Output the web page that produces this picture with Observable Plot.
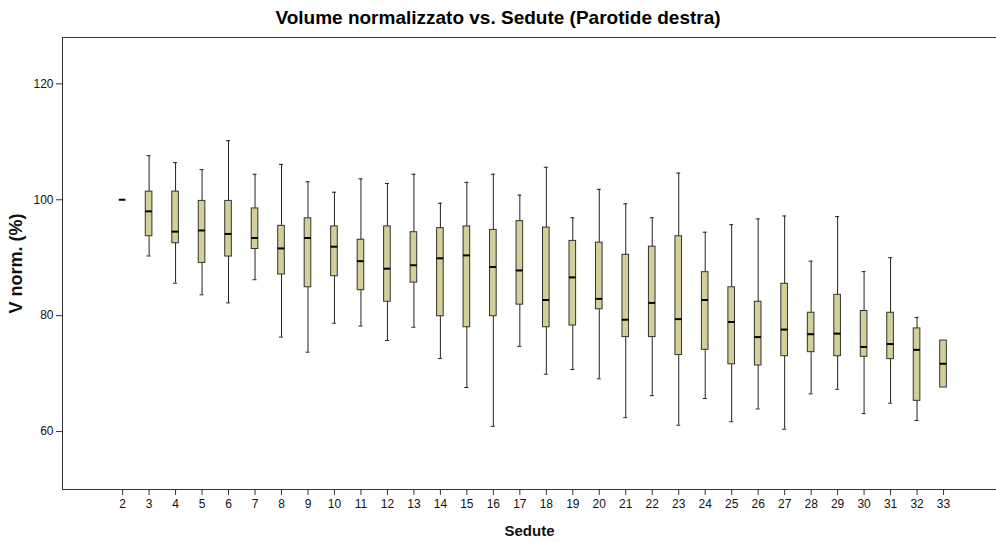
<!DOCTYPE html>
<html>
<head>
<meta charset="utf-8">
<script src="https://cdn.jsdelivr.net/npm/d3@7"></script>
<script src="https://cdn.jsdelivr.net/npm/@observablehq/plot@0.6"></script>
<style>
  html, body { margin: 0; padding: 0; background: #fff; }
  #wrap { position: relative; width: 996px; height: 542px; }
  #title { position: absolute; top: 7px; left: 0; width: 996px; text-align: center; line-height: 22px;
    font-family: 'Liberation Sans', Arial, sans-serif; font-weight: bold; font-size: 19px; color: #000; z-index: 2; }
  g[aria-label="x-axis label"] text { font-weight: bold; font-size: 15px; }
  g[aria-label="y-axis label"] text { font-weight: bold; font-size: 18px; }
</style>
</head>
<body>
<div id="wrap">
  <div id="title">Volume normalizzato vs. Sedute (Parotide destra)</div>
</div>
<script>
const sedute = [2,3,4,5,6,7,8,9,10,11,12,13,14,15,16,17,18,19,20,21,22,23,24,25,26,27,28,29,30,31,32,33];
const whiskerHigh = [100,107.6,106.4,105.2,110.2,104.4,106.1,103.1,101.3,103.6,102.8,104.4,99.4,103.0,104.4,100.8,105.6,96.9,101.8,99.3,96.9,104.6,94.4,95.7,96.7,97.2,89.4,97.1,87.6,90.0,79.7,75.7];
const q3 = [100,101.4,101.4,99.8,99.8,98.5,95.5,96.8,95.4,93.1,95.4,94.4,95.1,95.4,94.8,96.3,95.2,92.9,92.6,90.5,91.9,93.7,87.5,84.9,82.4,85.5,80.5,83.6,80.8,80.5,77.8,75.7];
const medians = [100,98.0,94.5,94.7,94.1,93.4,91.6,93.4,91.9,89.4,88.1,88.7,89.9,90.4,88.4,87.8,82.7,86.6,82.9,79.3,82.2,79.4,82.7,78.9,76.3,77.6,76.8,76.9,74.6,75.1,74.1,71.7];
const q1 = [100,93.7,92.5,89.1,90.2,91.5,87.1,84.9,86.8,84.4,82.4,85.7,79.9,78.0,79.9,81.9,78.0,78.3,81.1,76.3,76.3,73.2,74.1,71.6,71.4,73.0,73.7,73.0,72.9,72.5,65.3,67.6];
const whiskerLow = [100,90.3,85.6,83.6,82.2,86.2,76.3,73.7,78.7,78.2,75.7,78.0,72.6,67.6,60.9,74.7,69.9,70.7,69.1,62.4,66.2,61.1,65.7,61.7,63.9,60.4,66.5,67.3,63.1,64.9,61.9,67.6];
const yTicks = [60, 80, 100, 120];

const data = sedute.map((s, i) => ({
  s, lo: whiskerLow[i], q1: q1[i], med: medians[i], q3: q3[i], hi: whiskerHigh[i]
}));
const withWhiskers = data.filter(d => d.hi > d.q3 || d.lo < d.q1);
const hw = 0.125, cw = 0.075;

const chart = Plot.plot({
  width: 996,
  height: 542,
  marginLeft: 62,
  marginRight: 0,
  marginTop: 37,
  marginBottom: 53,
  style: { fontFamily: "'Liberation Sans', Arial, sans-serif", fontSize: "12px", color: "#000", background: "#fff", overflow: "visible" },
  x: { type: "linear", domain: [-0.27, 35] },
  y: { domain: [50, 128] },
  marks: [
    Plot.axisX({ ticks: sedute, tickFormat: d => String(d), tickSize: 6, tickPadding: 4, stroke: "#333", fill: "#111",
      label: "Sedute", labelAnchor: "center", labelArrow: "none", labelOffset: 46 }),
    Plot.axisY({ ticks: yTicks, tickSize: 6, tickPadding: 3, stroke: "#333", fill: "#111",
      label: "V norm. (%)", labelAnchor: "center", labelArrow: "none", labelOffset: 53 }),
    Plot.frame({ anchor: "top", stroke: "#333" }),
    Plot.frame({ anchor: "left", stroke: "#333" }),
    Plot.frame({ anchor: "bottom", stroke: "#333" }),
    Plot.ruleX(withWhiskers, { x: "s", y1: "lo", y2: "hi", stroke: "#222", strokeWidth: 1 }),
    Plot.ruleY(withWhiskers, { y: "hi", x1: d => d.s - cw, x2: d => d.s + cw, stroke: "#222", strokeWidth: 1 }),
    Plot.ruleY(withWhiskers, { y: "lo", x1: d => d.s - cw, x2: d => d.s + cw, stroke: "#222", strokeWidth: 1 }),
    Plot.rect(data, { x1: d => d.s - hw, x2: d => d.s + hw, y1: "q1", y2: "q3", fill: "#d4cf99", stroke: "#333", strokeWidth: 1 }),
    Plot.ruleY(data, { y: "med", x1: d => d.s - hw, x2: d => d.s + hw, stroke: "#000", strokeWidth: 2 })
  ]
});
document.getElementById("wrap").prepend(chart);
chart.style.position = "absolute";
chart.style.left = "0";
chart.style.top = "0";
</script>
</body>
</html>
